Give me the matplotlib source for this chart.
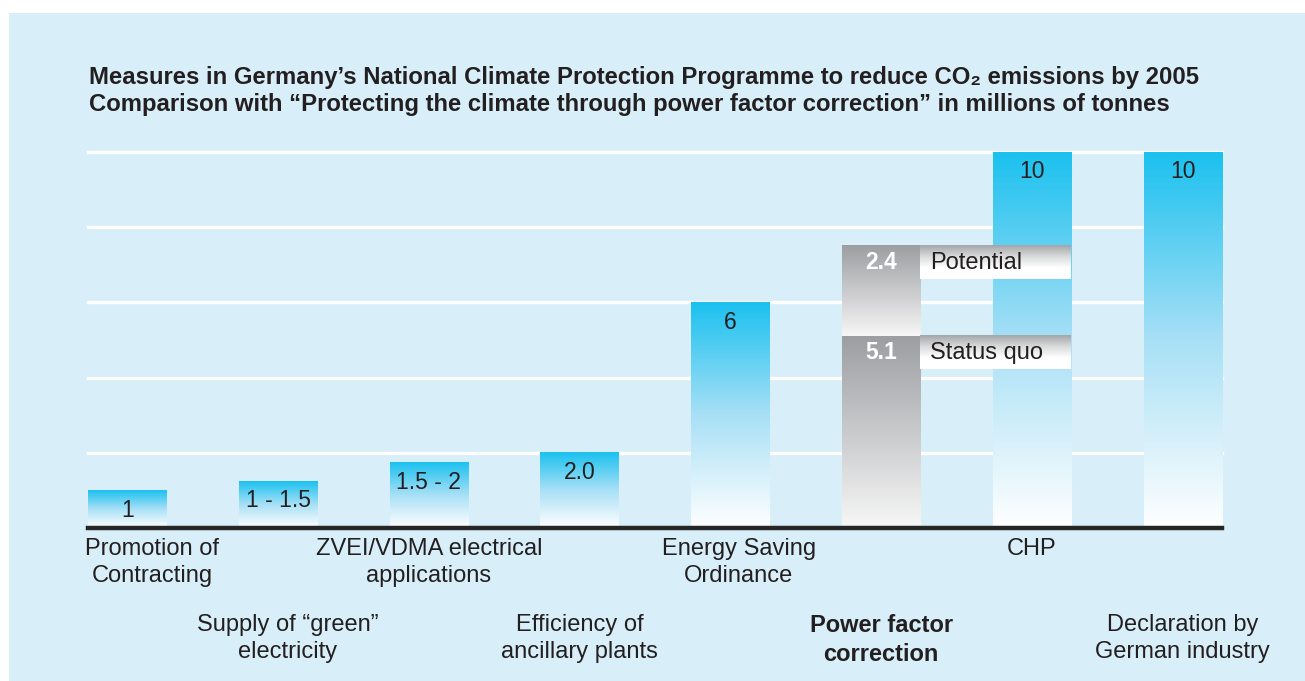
import numpy as np
import matplotlib.pyplot as plt
from matplotlib.colors import LinearSegmentedColormap
from matplotlib.patches import Rectangle

plt.rcParams['font.family'] = ['Liberation Sans', 'DejaVu Sans']

# categories, left to right
measures = ['Promotion of\nContracting', 'Supply of “green”\nelectricity',
            'ZVEI/VDMA electrical\napplications', 'Efficiency of\nancillary plants',
            'Energy Saving\nOrdinance', 'Power factor\ncorrection', 'CHP',
            'Declaration by\nGerman industry']
# blue bars (all but power factor correction)
blue_pos = [0, 1, 2, 3, 4, 6, 7]
blue_values = [1, 1.25, 1.75, 2.0, 6, 10, 10]
blue_labels = ['1', '1 - 1.5', '1.5 - 2', '2.0', '6', '10', '10']
# power factor correction, stacked
pfc_pos = 5
pfc_values = [5.1, 2.4]
pfc_parts = ['Status quo', 'Potential']

BG = '#d8eff9'
TXT = '#231f20'
blue_cm = LinearSegmentedColormap.from_list('b', ['#ffffff', '#a8e0f6', '#1bc1ef'])
gray_cm = LinearSegmentedColormap.from_list('g', ['#f7f7f7', '#c9cacc', '#9c9ea1'])
box_cm = LinearSegmentedColormap.from_list('x', ['#ffffff', '#ffffff', '#d9dadb', '#a3a5a8'])


def fill_gradient(ax, rect, cmap):
    x, y = rect.get_x(), rect.get_y()
    w, h = rect.get_width(), rect.get_height()
    grad = np.linspace(1, 0, 256).reshape(-1, 1)
    ax.imshow(grad, cmap=cmap, vmin=0, vmax=1, extent=(x, x + w, y, y + h),
              aspect='auto', interpolation='bilinear', zorder=rect.get_zorder())


fig = plt.figure(figsize=(13.05, 6.81), dpi=100)
fig.patches.append(Rectangle((9 / 1305, 0), 1, 1 - 13 / 681, transform=fig.transFigure,
                             facecolor=BG, edgecolor='none', zorder=-10))
ax = fig.add_axes([88 / 1305, 1 - 528 / 681, (1222 - 88) / 1305, (528 - 152) / 681])
ax.set_facecolor(BG)
ax.patch.set_alpha(0)

width = 0.52
for g in [2, 4, 6, 8, 10]:
    ax.axhline(g, color='white', lw=2.4, zorder=1, clip_on=False)

bars = ax.bar(blue_pos, blue_values, width=width, color='none', zorder=2)
for rect, lab in zip(bars, blue_labels):
    fill_gradient(ax, rect, blue_cm)
    ax.annotate(lab, (rect.get_x() + rect.get_width() / 2, rect.get_height()),
                xytext=(0, -6), textcoords='offset points', ha='center', va='top',
                fontsize=16.5, color=TXT, zorder=5)

bottom = 0
for val, part in zip(pfc_values, pfc_parts):
    seg = ax.bar(pfc_pos, val, bottom=bottom, width=width, color='none', zorder=2)[0]
    fill_gradient(ax, seg, gray_cm)
    top = bottom + val
    ax.annotate(f'{val:.1f}', (pfc_pos, top), xytext=(0, -12), textcoords='offset points',
                ha='center', va='center', fontsize=16.5, fontweight='bold', color='white', zorder=5)
    box = Rectangle((pfc_pos + width / 2, top - 0.88), 1.0, 0.88, facecolor='none',
                    edgecolor='none', zorder=3)
    ax.add_patch(box)
    fill_gradient(ax, box, box_cm)
    ax.annotate(part, (pfc_pos + width / 2, top), xytext=(7, -12), textcoords='offset points',
                ha='left', va='center', fontsize=17, color=TXT, zorder=5)
    bottom = top

ax.set_xlim(-width / 2, 7 + width / 2)
ax.set_ylim(0, 10)
ax.axhline(0, color='#262626', lw=3.2, zorder=6, clip_on=False)
for s in ax.spines.values():
    s.set_visible(False)
ax.set_xticks([])
ax.set_yticks([])

# small sideways nudges so the first labels do not run off the panel
nudge = {0: 18, 1: 7, 4: 6}
for i, name in enumerate(measures):
    dy = -7 if i % 2 == 0 else -62
    ax.annotate(name, (i, 0), xytext=(nudge.get(i, 0), dy), textcoords='offset points',
                ha='center', va='top', fontsize=17, color=TXT, linespacing=1.3,
                fontweight='bold' if i == pfc_pos else 'normal', annotation_clip=False)

fig.text(89 / 1305, 1 - 66 / 681,
         'Measures in Germany’s National Climate Protection Programme to reduce CO₂ emissions by 2005\n'
         'Comparison with “Protecting the climate through power factor correction” in millions of tonnes',
         ha='left', va='top', fontsize=17.2, fontweight='bold', color=TXT, linespacing=1.2)

fig.savefig('out.png', dpi=100)
